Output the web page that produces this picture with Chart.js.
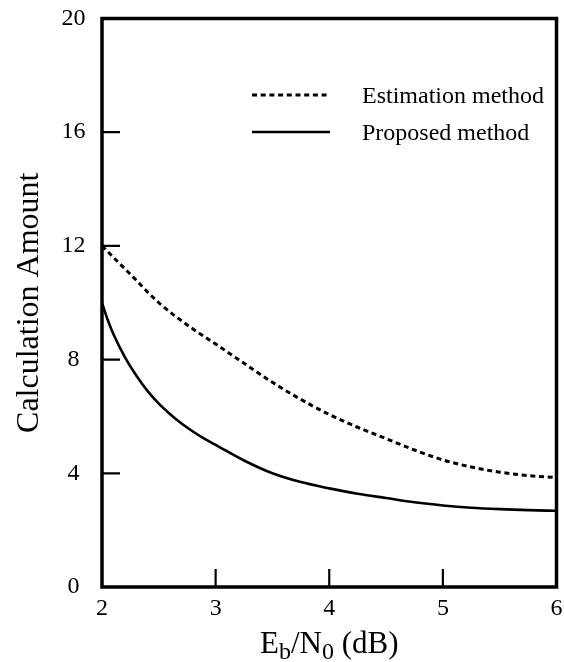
<!DOCTYPE html>
<html><head><meta charset="utf-8">
<script src="https://cdn.jsdelivr.net/npm/chart.js@4"></script>
<style>html,body{margin:0;padding:0;background:#fff;}#wrap{width:564px;height:662px;}</style>
</head><body><div id="wrap"><canvas id="c" width="564" height="662"></canvas></div>
<script>
// ---- data ----
const estX = [2, 2.25, 2.5, 2.75, 3, 3.25, 3.5, 3.75, 4, 4.25, 4.5, 4.75, 5, 5.25, 5.5, 5.75, 6];
const estY = [12.0, 11.0, 10.0, 9.22, 8.55, 7.87, 7.2, 6.6, 6.07, 5.62, 5.22, 4.82, 4.47, 4.22, 4.04, 3.92, 3.85];
const propX = [2, 2.05, 2.1, 2.2, 2.3, 2.4, 2.5, 2.6, 2.7, 2.8, 2.9, 3, 3.25, 3.5, 3.75, 4, 4.25, 4.5, 4.75, 5, 5.25, 5.5, 5.75, 6];
const propY = [10.0, 9.4, 8.9, 8.1, 7.45, 6.9, 6.45, 6.08, 5.75, 5.47, 5.22, 5.0, 4.45, 4.0, 3.69, 3.47, 3.28, 3.13, 2.98, 2.87, 2.79, 2.74, 2.705, 2.68];
const xTicks = [2, 3, 4, 5, 6];
const yTicks = [0, 4, 8, 12, 16, 20];
const seriesNames = ['Estimation method', 'Proposed method'];
const yTitle = 'Calculation Amount';
const xTitleParts = [['E', false], ['b', true], ['/N', false], ['0', true], [' (dB)', false]];

const FONT = '"Liberation Serif", "Times New Roman", serif';

const framePlugin = {
  id: 'frame',
  afterDatasetsDraw(chart) {
    const ctx = chart.ctx, a = chart.chartArea;
    const xs = chart.scales.x, ys = chart.scales.y;
    ctx.save();
    ctx.strokeStyle = '#000';
    ctx.lineWidth = 2.2;
    ctx.beginPath();
    xTicks.forEach(v => {
      if (v === xs.min || v === xs.max) return;
      const px = xs.getPixelForValue(v);
      ctx.moveTo(px, a.bottom); ctx.lineTo(px, a.bottom - 18);
    });
    yTicks.forEach(v => {
      if (v === ys.min || v === ys.max) return;
      const py = ys.getPixelForValue(v);
      ctx.moveTo(a.left, py); ctx.lineTo(a.left + 18, py);
    });
    ctx.stroke();
    ctx.lineWidth = 3.5;
    ctx.strokeRect(a.left, a.top, a.right - a.left, a.bottom - a.top);
    ctx.restore();
  },
  afterDraw(chart) {
    const ctx = chart.ctx, a = chart.chartArea;
    ctx.save();
    ctx.fillStyle = '#000';
    const rows = [95, 132];
    chart.data.datasets.forEach((ds, i) => {
      ctx.strokeStyle = ds.borderColor;
      ctx.lineWidth = ds.borderWidth;
      ctx.setLineDash(ds.borderDash || []);
      ctx.beginPath();
      ctx.moveTo(252, rows[i]); ctx.lineTo(330, rows[i]);
      ctx.stroke();
      ctx.setLineDash([]);
      ctx.font = '24px ' + FONT;
      ctx.textAlign = 'left';
      ctx.textBaseline = 'alphabetic';
      ctx.fillText(ds.label, 362, rows[i] + 8);
    });
    ctx.save();
    ctx.translate(38, (a.top + a.bottom) / 2);
    ctx.rotate(-Math.PI / 2);
    ctx.font = '32px ' + FONT;
    ctx.textAlign = 'center';
    ctx.textBaseline = 'alphabetic';
    ctx.fillText(yTitle, 0, 0);
    ctx.restore();
    const mainF = '31px ' + FONT, subF = '24px ' + FONT;
    let w = 0;
    xTitleParts.forEach(([t, sub]) => { ctx.font = sub ? subF : mainF; w += ctx.measureText(t).width; });
    let x = (a.left + a.right) / 2 - w / 2;
    const base = 653;
    ctx.textAlign = 'left';
    xTitleParts.forEach(([t, sub]) => {
      ctx.font = sub ? subF : mainF;
      ctx.fillText(t, x, sub ? base + 6 : base);
      x += ctx.measureText(t).width;
    });
    ctx.restore();
  }
};

new Chart(document.getElementById('c'), {
  type: 'line',
  data: {
    datasets: [
      { label: seriesNames[0], data: estX.map((x, i) => ({ x, y: estY[i] })),
        borderColor: '#000', borderWidth: 3, borderDash: [5, 3.7], pointRadius: 0,
        cubicInterpolationMode: 'monotone', fill: false },
      { label: seriesNames[1], data: propX.map((x, i) => ({ x, y: propY[i] })),
        borderColor: '#000', borderWidth: 2.6, pointRadius: 0,
        cubicInterpolationMode: 'monotone', fill: false }
    ]
  },
  options: {
    responsive: false, devicePixelRatio: 1, animation: false,
    layout: { padding: { left: 0, top: 18.5, right: 7.5, bottom: 0 } },
    plugins: { legend: { display: false }, tooltip: { enabled: false }, title: { display: false } },
    scales: {
      x: {
        type: 'linear', min: 2, max: 6,
        afterBuildTicks: s => { s.ticks = xTicks.map(v => ({ value: v })); },
        grid: { display: false, drawTicks: false }, border: { display: false },
        ticks: { color: '#000', font: { family: FONT, size: 24 }, padding: 7, maxRotation: 0, autoSkip: false },
        afterFit: s => { s.height = 75; s.paddingLeft = 0; s.paddingRight = 0; }
      },
      y: {
        type: 'linear', min: 0, max: 20,
        afterBuildTicks: s => { s.ticks = yTicks.map(v => ({ value: v })); },
        grid: { display: false, drawTicks: false }, border: { display: false },
        ticks: { color: '#000', font: { family: FONT, size: 24 }, padding: 16.5, crossAlign: 'center', autoSkip: false },
        afterFit: s => { s.width = 102; s.paddingTop = 0; s.paddingBottom = 0; }
      }
    }
  },
  plugins: [framePlugin]
});
</script></body></html>
